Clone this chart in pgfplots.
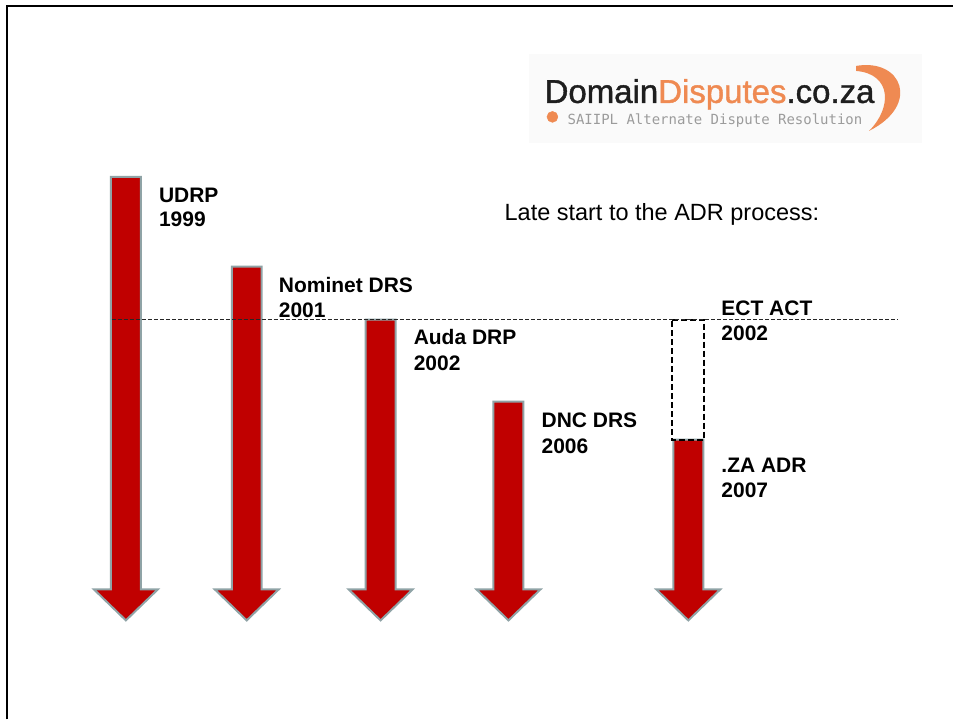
\documentclass[border=0pt]{standalone}
\usepackage{fontspec}
\setmainfont{Liberation Sans}
\newfontfamily\logomono{DejaVu Sans Mono}
\newfontfamily\logofont[FakeBold=1.2]{Liberation Sans}
\usepackage{pgfplots}
\pgfplotsset{compat=1.18}
\definecolor{arrowred}{HTML}{C00000}
\definecolor{arrowedge}{HTML}{8FA3A6}
\definecolor{logoorange}{HTML}{EF8A52}
\definecolor{logodark}{HTML}{1E1E1E}
\definecolor{logogrey}{HTML}{9B9B9B}
\begin{document}
\begin{tikzpicture}
\begin{axis}[width=954pt,height=720pt,scale only axis,
  xmin=0,xmax=954,ymin=0,ymax=720,y dir=reverse,hide axis,clip=false]
% page background
\addplot[fill=white,draw=none] coordinates {(0,0)(954,0)(954,720)(0,720)} -- cycle;
% slide frame (left and top)
\addplot[black,line width=2pt] coordinates {(7,720)(7,6)(954,6)};
% logo
\addplot[fill=gray!4,draw=none] coordinates {(530,54)(923,54)(923,143)(530,143)} -- cycle;
\fill[logoorange] (axis cs:857,66) .. controls (axis cs:903,58) and (axis cs:922,105) .. (axis cs:870,131)
  .. controls (axis cs:893,108) and (axis cs:893,74) .. (axis cs:857,71) -- cycle;
\node[anchor=base west,inner sep=0pt,font=\logofont\fontsize{33}{36}\selectfont] at (axis cs:545,103)
  {\textcolor{logodark}{Domain}\textcolor{logoorange}{Disputes}\textcolor{logodark}{.co.za}};
\addplot[only marks,mark=*,mark size=5.5pt,color=logoorange] coordinates {(553,117)};
\node[anchor=base west,inner sep=0pt,font=\logomono\fontsize{14}{16}\selectfont,text=logogrey] at (axis cs:568,125)
  {SAIIPL Alternate Dispute Resolution};
% arrows
\pgfplotsset{arrowstyle/.style={fill=arrowred,draw=arrowedge,line width=2pt,line join=miter}}
\addplot[arrowstyle] coordinates {(111,177)(141,177)(141,590)(158,590)(126,621)(94,590)(111,590)} -- cycle;
\addplot[arrowstyle] coordinates {(232,267)(262,267)(262,590)(279,590)(247,621)(215,590)(232,590)} -- cycle;
\addplot[arrowstyle] coordinates {(366,320)(396,320)(396,590)(413,590)(381,621)(349,590)(366,590)} -- cycle;
\addplot[arrowstyle] coordinates {(494,402)(524,402)(524,590)(541,590)(509,621)(477,590)(494,590)} -- cycle;
\addplot[arrowstyle] coordinates {(674,440)(704,440)(704,590)(721,590)(689,621)(657,590)(674,590)} -- cycle;
% dashed box (ECT ACT)
\addplot[black,line width=2pt,dash pattern=on 6pt off 3pt] coordinates {(673,320)(705,320)(705,440)(673,440)} -- cycle;
% dashed reference line
\addplot[black!85,line width=1.2pt,dash pattern=on 4pt off 2pt] coordinates {(112,320)(899,320)};
% labels
\tikzset{lab/.style={anchor=base west,inner sep=0pt,font=\fontsize{21}{25}\selectfont\bfseries}}
\node[lab] at (axis cs:159,203) {UDRP};
\node[lab] at (axis cs:159,227) {1999};
\node[lab] at (axis cs:279,293) {Nominet DRS};
\node[lab] at (axis cs:279,318) {2001};
\node[lab] at (axis cs:414,345) {Auda DRP};
\node[lab] at (axis cs:414,371) {2002};
\node[lab] at (axis cs:542,428) {DNC DRS};
\node[lab] at (axis cs:542,454) {2006};
\node[lab] at (axis cs:722,316) {ECT ACT};
\node[lab] at (axis cs:722,341) {2002};
\node[lab] at (axis cs:722,473) {.ZA ADR};
\node[lab] at (axis cs:722,498) {2007};
\node[anchor=base west,inner sep=0pt,font=\fontsize{23.5}{28}\selectfont] at (axis cs:505,221) {Late start to the ADR process:};
\end{axis}
\end{tikzpicture}
\end{document}
